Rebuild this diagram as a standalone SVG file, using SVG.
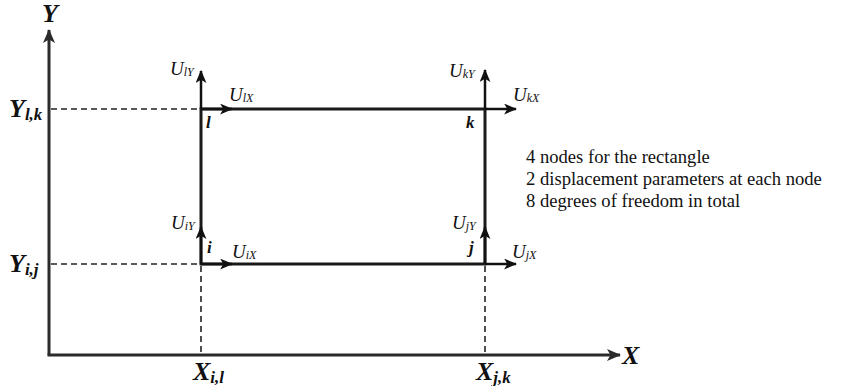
<svg xmlns="http://www.w3.org/2000/svg" width="856" height="386" viewBox="0 0 856 386">
<defs>
<style>
.ax{stroke:#2b2b2b;stroke-width:3;fill:none}
.rc{stroke:#1a1a1a;stroke-width:3;fill:none}
.ar{stroke:#111;stroke-width:2.5;fill:none}
.ds{stroke:#222;stroke-width:1.6;stroke-dasharray:6,4;fill:none}
text{font-family:'Liberation Serif','Times New Roman','DejaVu Serif',serif;fill:#111}
.big{font-style:italic;font-weight:bold;font-size:26px}
.u{font-style:italic;font-size:19px}
.nd{font-style:italic;font-weight:bold;font-size:17px}
.tx{font-size:18.6px}
</style>
<marker id="ah" viewBox="0 0 12 10" refX="11" refY="5" markerWidth="13" markerHeight="11" markerUnits="userSpaceOnUse" orient="auto">
<path d="M0,0 L12,5 L0,10 L3,5 Z" fill="#111"/>
</marker>
<marker id="ahb" viewBox="0 0 14 12" refX="13" refY="6" markerWidth="14" markerHeight="12" markerUnits="userSpaceOnUse" orient="auto">
<path d="M0,0 L14,6 L0,12 L3.5,6 Z" fill="#2b2b2b"/>
</marker>
</defs>
<g id="connectors">
<path class="ax" d="M49,355 V30" marker-end="url(#ahb)"/>
<path class="ax" d="M47.5,355 H620" marker-end="url(#ahb)"/>
<path class="rc" d="M201,109 H485 M201,264 H485 M201,107.5 V265.5 M485,107.5 V265.5"/>
<path class="ds" d="M51,109 H200 M51,264 H200 M201,266 V354 M485,266 V354"/>
<path class="ar" d="M201,109 V71" marker-end="url(#ah)"/>
<path class="ar" d="M201,109 H232" marker-end="url(#ah)"/>
<path class="ar" d="M485,109 V70" marker-end="url(#ah)"/>
<path class="ar" d="M485,109 H516" marker-end="url(#ah)"/>
<path class="ar" d="M201,264 V227" marker-end="url(#ah)"/>
<path class="ar" d="M201,264 H232" marker-end="url(#ah)"/>
<path class="ar" d="M485,264 V227" marker-end="url(#ah)"/>
<path class="ar" d="M485,264 H516" marker-end="url(#ah)"/>
</g>
<g id="axis-labels">
<text class="big" x="42" y="22">Y</text>
<text class="big" x="622" y="364">X</text>
<text class="big" x="9" y="117">Y<tspan font-size="17" dy="3">l,k</tspan></text>
<text class="big" x="9" y="272">Y<tspan font-size="17" dy="3">i,j</tspan></text>
<text class="big" x="193" y="380">X<tspan font-size="17" dy="3">i,l</tspan></text>
<text class="big" x="476" y="380">X<tspan font-size="17" dy="3">j,k</tspan></text>
</g>
<g id="node-l">
<text class="nd" x="206" y="128">l</text>
<text class="u" x="170" y="75">U<tspan font-size="12" dy="1">lY</tspan></text>
<text class="u" x="229" y="101">U<tspan font-size="12" dy="1">lX</tspan></text>
</g>
<g id="node-k">
<text class="nd" x="466" y="128">k</text>
<text class="u" x="449" y="77">U<tspan font-size="12" dy="1">kY</tspan></text>
<text class="u" x="513" y="101">U<tspan font-size="12" dy="1">kX</tspan></text>
</g>
<g id="node-i">
<text class="nd" x="207" y="253">i</text>
<text class="u" x="171" y="229">U<tspan font-size="12" dy="1">iY</tspan></text>
<text class="u" x="232" y="258">U<tspan font-size="12" dy="1">iX</tspan></text>
</g>
<g id="node-j">
<text class="nd" x="469" y="253">j</text>
<text class="u" x="452" y="229">U<tspan font-size="12" dy="1">jY</tspan></text>
<text class="u" x="512" y="258">U<tspan font-size="12" dy="1">jX</tspan></text>
</g>
<g id="note">
<text class="tx" x="526" y="163">4 nodes for the rectangle</text>
<text class="tx" x="526" y="185">2 displacement parameters at each node</text>
<text class="tx" x="526" y="207">8 degrees of freedom in total</text>
</g>
</svg>
